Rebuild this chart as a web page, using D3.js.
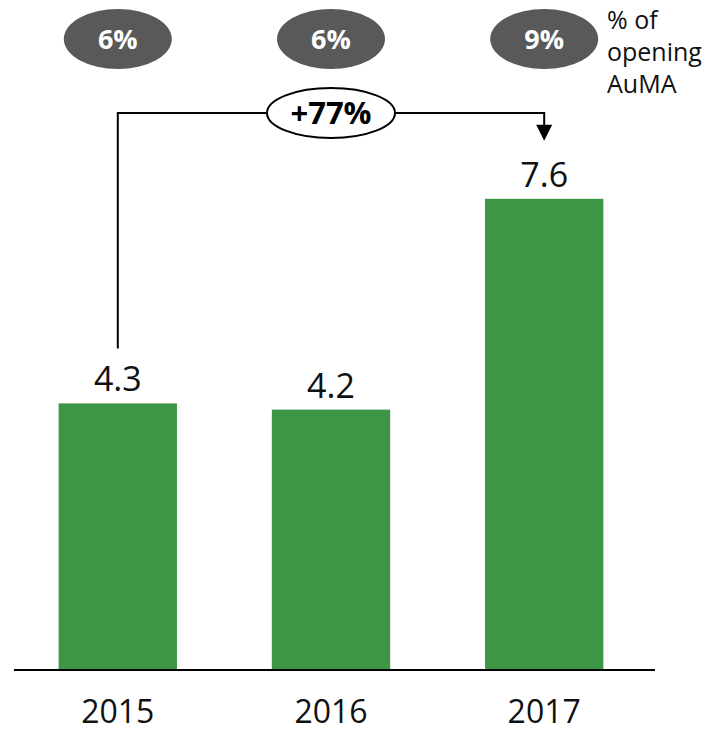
<!DOCTYPE html>
<html>
<head>
<meta charset="utf-8">
<script src="https://cdn.jsdelivr.net/npm/d3@7"></script>
<style>
  html, body { margin: 0; padding: 0; background: #fff; }
  svg { display: block; font-family: "Open Sans", sans-serif; }
</style>
</head>
<body>
<svg id="chart" width="709" height="731"></svg>
<script>
// Annual values per year
const years = ["2015", "2016", "2017"];
const values = [4.3, 4.2, 7.6];
const valueLabels = ["4.3", "4.2", "7.6"];
// Share of opening AuMA per year
const shareLabels = ["6%", "6%", "9%"];
const shareNote = ["% of", "opening", "AuMA"];
const growthLabel = "+77%";

const svg = d3.select("#chart");
const green = "#3d9646";
const grey = "#595959";

const x = d3.scaleBand()
  .domain(years)
  .range([16, 646])
  .paddingInner(0.445)
  .paddingOuter(0.2);

const baseY = 670;
const y = d3.scaleLinear().domain([0, 8]).range([baseY, baseY - 8 * 62]);

// bars
svg.append("g").selectAll("rect")
  .data(values)
  .join("rect")
  .attr("x", (d, i) => x(years[i]))
  .attr("width", x.bandwidth())
  .attr("y", d => y(d))
  .attr("height", d => y(0) - y(d))
  .attr("fill", green);

// value labels
svg.append("g").selectAll("text")
  .data(values)
  .join("text")
  .attr("x", (d, i) => x(years[i]) + x.bandwidth() / 2)
  .attr("y", d => y(d) - 12)
  .attr("text-anchor", "middle")
  .attr("font-size", 34)
  .attr("fill", "#111")
  .text((d, i) => valueLabels[i]);

// baseline axis
const axis = svg.append("g")
  .attr("transform", `translate(0,${baseY})`)
  .call(d3.axisBottom(x).tickSize(0).tickPadding(30));
axis.select(".domain").remove();
axis.selectAll("text")
  .attr("font-size", 32)
  .attr("font-family", "Open Sans, sans-serif")
  .attr("fill", "#111");
svg.append("line")
  .attr("x1", 14).attr("x2", 655)
  .attr("y1", baseY).attr("y2", baseY)
  .attr("stroke", "#000").attr("stroke-width", 2);

// share ovals
const shareG = svg.append("g");
shareLabels.forEach((s, i) => {
  const cx = x(years[i]) + x.bandwidth() / 2;
  shareG.append("ellipse")
    .attr("cx", cx).attr("cy", 39)
    .attr("rx", 54).attr("ry", 30)
    .attr("fill", grey);
  shareG.append("text")
    .attr("x", cx).attr("y", 49)
    .attr("text-anchor", "middle")
    .attr("font-size", 27).attr("font-weight", 700)
    .attr("fill", "#fff")
    .text(s);
});
svg.append("g").selectAll("text")
  .data(shareNote)
  .join("text")
  .attr("x", 607)
  .attr("y", (d, i) => 29 + i * 32)
  .attr("font-size", 25)
  .attr("fill", "#111")
  .text(d => d);

// growth bracket from first to last bar
const cx0 = x(years[0]) + x.bandwidth() / 2;
const cx2 = x(years[2]) + x.bandwidth() / 2;
const topY = 113;
svg.append("path")
  .attr("d", `M${cx0},${y(values[0]) - 55} V${topY} H${cx2} V${y(values[2]) - 72}`)
  .attr("fill", "none").attr("stroke", "#000").attr("stroke-width", 2);
const tipY = y(values[2]) - 58;
svg.append("path")
  .attr("d", `M${cx2 - 8},${tipY - 16} L${cx2 + 8},${tipY - 16} L${cx2},${tipY} Z`)
  .attr("fill", "#000");
const midX = (cx0 + cx2) / 2;
svg.append("ellipse")
  .attr("cx", midX).attr("cy", topY)
  .attr("rx", 64).attr("ry", 25)
  .attr("fill", "#fff").attr("stroke", "#000").attr("stroke-width", 2);
svg.append("text")
  .attr("x", midX).attr("y", topY + 11)
  .attr("text-anchor", "middle")
  .attr("font-size", 31).attr("font-weight", 700)
  .attr("fill", "#000")
  .text(growthLabel);
</script>
</body>
</html>
